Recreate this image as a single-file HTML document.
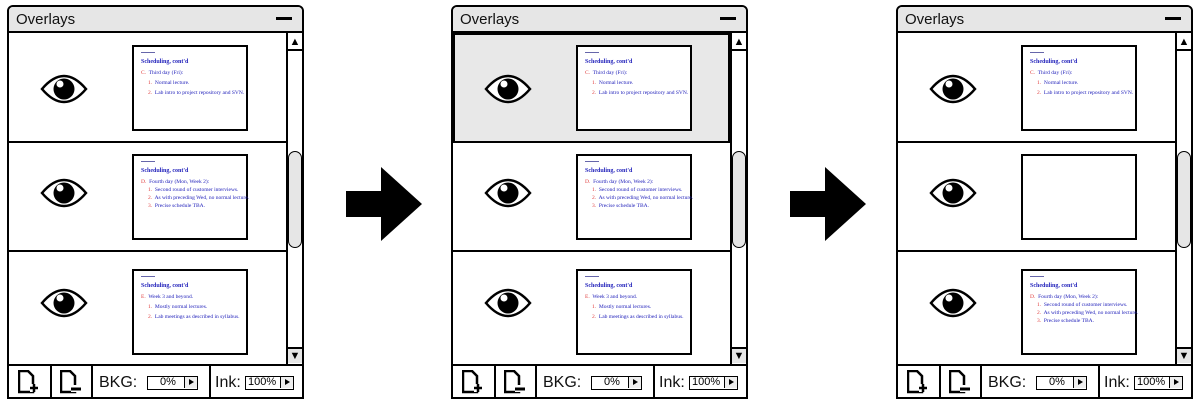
<!DOCTYPE html>
<html><head><meta charset="utf-8"><style>
*{box-sizing:border-box}
body{margin:0;width:1200px;height:406px;background:#fff;position:relative;overflow:hidden;font-family:"Liberation Sans",sans-serif}
.p{position:absolute;top:5px;width:297px;height:394px;border:2px solid #000;border-radius:6px 6px 0 0;background:#fff}
.p div,.p svg{position:absolute}
.tb{left:0;top:0;width:293px;height:26px;background:#e6e6e6;border-bottom:2px solid #000;border-radius:4px 4px 0 0}
.tt{left:7px;top:4px;font-size:15px;color:#111}
.mn{left:267px;top:10px;width:16px;height:3px;background:#000}
.hl{left:0;height:2px;width:278px;background:#000}
.sl{left:277px;top:26px;width:2px;height:331px;background:#000}
.ft{left:0;top:357px;width:293px;height:2px;background:#000}
.vd{top:359px;width:2px;height:31px;background:#000}
.th{left:279px;top:144px;width:14px;height:97px;border:1.5px solid #000;border-radius:7px;background:#e6e6e6}
.sb{left:279px;width:14px;height:2px;background:#000}
.ar{left:279px;width:14px;height:14px;font-size:11px;line-height:14px;text-align:center;color:#000}
.sd{left:123px;width:116px;height:86px;border:2px solid #000;background:#fff;font-family:"Liberation Serif",serif;color:#2222bb;font-size:5.5px;line-height:1;white-space:nowrap}
.sd .h{left:7px;top:5px;width:14px;height:1px;background:#66a}
.sd .t{left:7px;top:12px;font-weight:bold;font-size:6px}
.r{color:#e04040}
.lbl{font-size:16px;top:367px;color:#111}
.box{top:369px;height:14px;border:1.5px solid #000;font-size:11px;line-height:11px;text-align:left}
.bt{top:0;right:0;width:13px;height:11px;border-left:1px solid #000;background:#eee}
</style></head><body>

<svg style="position:absolute;left:0;top:0" width="1200" height="406">
<polygon points="346,191 381,191 381,167 422,204 381,241 381,217 346,217" fill="#000"/>
<polygon points="790,191 825,191 825,167 866,204 825,241 825,217 790,217" fill="#000"/>
<defs>
<g id="eye"><path d="M-22,0 Q0,-26 22,0 Q0,26 -22,0 Z" fill="#fff" stroke="#000" stroke-width="2.5"/><circle r="10.5" fill="#000"/><circle cx="-4" cy="-5" r="3.5" fill="#fff"/></g>
<g id="docp"><path d="M1,1 H10 L15,6 V22 H1 Z" fill="none" stroke="#000" stroke-width="2.5"/><rect x="12" y="14" width="8" height="8" fill="#fff"/><path d="M12,18 H20 M16,14 V22" stroke="#000" stroke-width="2.5"/></g>
<g id="docm"><path d="M1,1 H10 L15,6 V22 H1 Z" fill="none" stroke="#000" stroke-width="2.5"/><rect x="11" y="15" width="10" height="7" fill="#fff"/><path d="M11,19 H21" stroke="#000" stroke-width="3"/></g>
</defs>
</svg>

<!-- PANEL 1 -->
<div class="p" style="left:7px">
<div class="tb"></div><div class="tt">Overlays</div><div class="mn"></div>
<div class="hl" style="top:134px"></div><div class="hl" style="top:243px"></div>
<div class="sl"></div><div class="sb" style="top:42px"></div><div class="sb" style="top:340px"></div>
<div class="ar" style="top:28px">▲</div><div class="ar" style="top:342px;background:#e6e6e6">▼</div>
<div class="th"></div>
<svg style="left:0;top:0" width="270" height="357"><use href="#eye" x="55" y="82"/><use href="#eye" x="55" y="186"/><use href="#eye" x="55" y="296"/></svg>
<div class="sd" style="top:38px"><div class="h"></div><div class="t">Scheduling, cont'd</div>
<div style="left:7px;top:24px"><span class="r">C.</span>&nbsp; Third day (Fri):</div>
<div style="left:14px;top:34px"><span class="r">1.</span>&nbsp; Normal lecture.</div>
<div style="left:14px;top:44px"><span class="r">2.</span>&nbsp; Lab intro to project repository and SVN.</div></div>
<div class="sd" style="top:147px"><div class="h"></div><div class="t">Scheduling, cont'd</div>
<div style="left:7px;top:24px"><span class="r">D.</span>&nbsp; Fourth day (Mon, Week 2):</div>
<div style="left:14px;top:32px"><span class="r">1.</span>&nbsp; Second round of customer interviews.</div>
<div style="left:14px;top:40px"><span class="r">2.</span>&nbsp; As with preceding Wed, no normal lecture.</div>
<div style="left:14px;top:48px"><span class="r">3.</span>&nbsp; Precise schedule TBA.</div></div>
<div class="sd" style="top:262px"><div class="h"></div><div class="t">Scheduling, cont'd</div>
<div style="left:7px;top:24px"><span class="r">E.</span>&nbsp; Week 3 and beyond.</div>
<div style="left:14px;top:34px"><span class="r">1.</span>&nbsp; Mostly normal lectures.</div>
<div style="left:14px;top:44px"><span class="r">2.</span>&nbsp; Lab meetings as described in syllabus.</div></div>
<div class="ft"></div><div class="vd" style="left:41px"></div><div class="vd" style="left:82px"></div><div class="vd" style="left:200px"></div>
<svg style="left:9px;top:363px" width="24" height="26"><use href="#docp"/></svg>
<svg style="left:51px;top:363px" width="24" height="26"><use href="#docm"/></svg>
<div class="lbl" style="left:90px">BKG:</div>
<div class="box" style="left:138px;width:51px;padding-left:12px">0%<div class="bt"><svg style="left:4px;top:2px" width="5" height="6"><polygon points="0,0 5,3 0,6"/></svg></div></div>
<div class="lbl" style="left:206px">Ink:</div>
<div class="box" style="left:236px;width:49px;padding-left:2px">100%<div class="bt"><svg style="left:4px;top:2px" width="5" height="6"><polygon points="0,0 5,3 0,6"/></svg></div></div>
</div>

<!-- PANEL 2 -->
<div class="p" style="left:451px">
<div class="tb"></div><div class="tt">Overlays</div><div class="mn"></div>
<div style="left:0;top:26px;width:277px;height:110px;background:#e8e8e8;border:2px solid #000"></div>
<div class="hl" style="top:134px"></div><div class="hl" style="top:243px"></div>
<div class="sl"></div><div class="sb" style="top:42px"></div><div class="sb" style="top:340px"></div>
<div class="ar" style="top:28px">▲</div><div class="ar" style="top:342px;background:#e6e6e6">▼</div>
<div class="th"></div>
<svg style="left:0;top:0" width="270" height="357"><use href="#eye" x="55" y="82"/><use href="#eye" x="55" y="186"/><use href="#eye" x="55" y="296"/></svg>
<div class="sd" style="top:38px"><div class="h"></div><div class="t">Scheduling, cont'd</div>
<div style="left:7px;top:24px"><span class="r">C.</span>&nbsp; Third day (Fri):</div>
<div style="left:14px;top:34px"><span class="r">1.</span>&nbsp; Normal lecture.</div>
<div style="left:14px;top:44px"><span class="r">2.</span>&nbsp; Lab intro to project repository and SVN.</div></div>
<div class="sd" style="top:147px"><div class="h"></div><div class="t">Scheduling, cont'd</div>
<div style="left:7px;top:24px"><span class="r">D.</span>&nbsp; Fourth day (Mon, Week 2):</div>
<div style="left:14px;top:32px"><span class="r">1.</span>&nbsp; Second round of customer interviews.</div>
<div style="left:14px;top:40px"><span class="r">2.</span>&nbsp; As with preceding Wed, no normal lecture.</div>
<div style="left:14px;top:48px"><span class="r">3.</span>&nbsp; Precise schedule TBA.</div></div>
<div class="sd" style="top:262px"><div class="h"></div><div class="t">Scheduling, cont'd</div>
<div style="left:7px;top:24px"><span class="r">E.</span>&nbsp; Week 3 and beyond.</div>
<div style="left:14px;top:34px"><span class="r">1.</span>&nbsp; Mostly normal lectures.</div>
<div style="left:14px;top:44px"><span class="r">2.</span>&nbsp; Lab meetings as described in syllabus.</div></div>
<div class="ft"></div><div class="vd" style="left:41px"></div><div class="vd" style="left:82px"></div><div class="vd" style="left:200px"></div>
<svg style="left:9px;top:363px" width="24" height="26"><use href="#docp"/></svg>
<svg style="left:51px;top:363px" width="24" height="26"><use href="#docm"/></svg>
<div class="lbl" style="left:90px">BKG:</div>
<div class="box" style="left:138px;width:51px;padding-left:12px">0%<div class="bt"><svg style="left:4px;top:2px" width="5" height="6"><polygon points="0,0 5,3 0,6"/></svg></div></div>
<div class="lbl" style="left:206px">Ink:</div>
<div class="box" style="left:236px;width:49px;padding-left:2px">100%<div class="bt"><svg style="left:4px;top:2px" width="5" height="6"><polygon points="0,0 5,3 0,6"/></svg></div></div>
</div>

<!-- PANEL 3 -->
<div class="p" style="left:896px">
<div class="tb"></div><div class="tt">Overlays</div><div class="mn"></div>
<div class="hl" style="top:134px"></div><div class="hl" style="top:243px"></div>
<div class="sl"></div><div class="sb" style="top:42px"></div><div class="sb" style="top:340px"></div>
<div class="ar" style="top:28px">▲</div><div class="ar" style="top:342px;background:#e6e6e6">▼</div>
<div class="th"></div>
<svg style="left:0;top:0" width="270" height="357"><use href="#eye" x="55" y="82"/><use href="#eye" x="55" y="186"/><use href="#eye" x="55" y="296"/></svg>
<div class="sd" style="top:38px"><div class="h"></div><div class="t">Scheduling, cont'd</div>
<div style="left:7px;top:24px"><span class="r">C.</span>&nbsp; Third day (Fri):</div>
<div style="left:14px;top:34px"><span class="r">1.</span>&nbsp; Normal lecture.</div>
<div style="left:14px;top:44px"><span class="r">2.</span>&nbsp; Lab intro to project repository and SVN.</div></div>
<div class="sd" style="top:147px"></div>
<div class="sd" style="top:262px"><div class="h"></div><div class="t">Scheduling, cont'd</div>
<div style="left:7px;top:24px"><span class="r">D.</span>&nbsp; Fourth day (Mon, Week 2):</div>
<div style="left:14px;top:32px"><span class="r">1.</span>&nbsp; Second round of customer interviews.</div>
<div style="left:14px;top:40px"><span class="r">2.</span>&nbsp; As with preceding Wed, no normal lecture.</div>
<div style="left:14px;top:48px"><span class="r">3.</span>&nbsp; Precise schedule TBA.</div></div>
<div class="ft"></div><div class="vd" style="left:41px"></div><div class="vd" style="left:82px"></div><div class="vd" style="left:200px"></div>
<svg style="left:9px;top:363px" width="24" height="26"><use href="#docp"/></svg>
<svg style="left:51px;top:363px" width="24" height="26"><use href="#docm"/></svg>
<div class="lbl" style="left:90px">BKG:</div>
<div class="box" style="left:138px;width:51px;padding-left:12px">0%<div class="bt"><svg style="left:4px;top:2px" width="5" height="6"><polygon points="0,0 5,3 0,6"/></svg></div></div>
<div class="lbl" style="left:206px">Ink:</div>
<div class="box" style="left:236px;width:49px;padding-left:2px">100%<div class="bt"><svg style="left:4px;top:2px" width="5" height="6"><polygon points="0,0 5,3 0,6"/></svg></div></div>
</div>

</body></html>
